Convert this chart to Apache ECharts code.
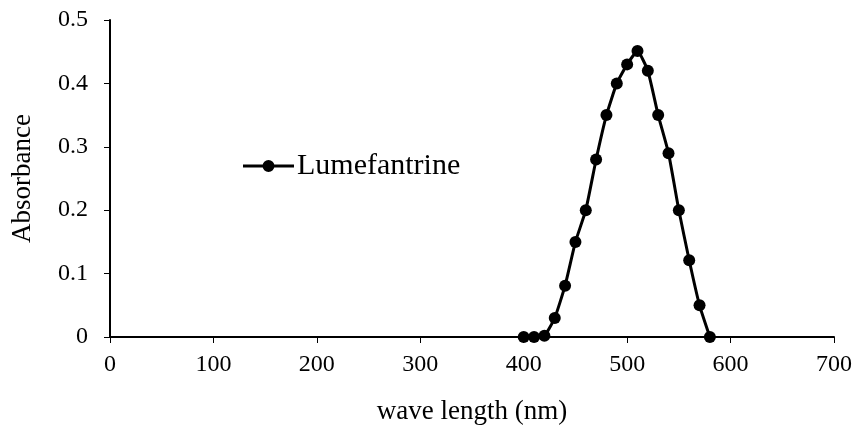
<!DOCTYPE html>
<html>
<head>
<meta charset="utf-8">
<script src="https://cdn.jsdelivr.net/npm/echarts@6/dist/echarts.min.js"></script>
<style>html,body{margin:0;padding:0;background:#fff}#c{width:855px;height:428px}</style>
</head>
<body>
<div id="c"></div>
<script>
const seriesName = 'Lumefantrine';
const wavelengths = [400,410,420,430,440,450,460,470,480,490,500,510,520,530,540,550,560,570,580];
const absorbance = [0,0,0.002,0.03,0.081,0.15,0.2,0.28,0.35,0.4,0.43,0.451,0.42,0.35,0.29,0.2,0.121,0.05,0];
const xTitle = 'wave length (nm)';
const yTitle = 'Absorbance';

const font = '"Liberation Serif","Times New Roman",serif';
const legendIcon = 'path://M0,4.5 L51,4.5 L51,7.5 L0,7.5 Z M19.5,6 A6,6 0 1,1 31.5,6 A6,6 0 1,1 19.5,6 Z';
const chart = echarts.init(document.getElementById('c'));
chart.setOption({
  animation: false,
  backgroundColor: '#fff',
  grid: {left: 110, right: 21, top: 20, bottom: 91, outerBoundsMode: 'none', containLabel: false},
  legend: {
    left: 243, top: 151, padding: 0,
    itemWidth: 51, itemHeight: 12, itemGap: 0,
    data: [{name: seriesName, icon: legendIcon}],
    itemStyle: {color: '#000', borderWidth: 0},
    lineStyle: {width: 0},
    textStyle: {fontFamily: font, fontSize: 30, color: '#000', padding: [0,0,0,-2]}
  },
  xAxis: {
    type: 'value', min: 0, max: 700, interval: 100,
    name: xTitle, nameLocation: 'middle', nameGap: 61,
    nameTextStyle: {fontFamily: font, fontSize: 27, color: '#000'},
    axisLine: {lineStyle: {color: '#000', width: 2}},
    axisTick: {show: true, inside: false, length: 6, lineStyle: {color: '#000', width: 1}},
    axisLabel: {fontFamily: font, fontSize: 24, color: '#000', margin: 16},
    splitLine: {show: false}
  },
  yAxis: {
    type: 'value', min: 0, max: 0.5, interval: 0.1,
    name: yTitle, nameLocation: 'middle', nameGap: 74,
    nameTextStyle: {fontFamily: font, fontSize: 27, color: '#000'},
    axisLine: {show: true, lineStyle: {color: '#000', width: 2}},
    axisTick: {show: true, inside: false, length: 6, lineStyle: {color: '#000', width: 1}},
    axisLabel: {fontFamily: font, fontSize: 24, color: '#000', margin: 22},
    splitLine: {show: false}
  },
  series: [{
    name: seriesName,
    type: 'line',
    data: wavelengths.map((w, i) => [w, absorbance[i]]),
    smooth: 0.15,
    symbol: 'circle',
    symbolSize: 12,
    itemStyle: {color: '#000'},
    lineStyle: {color: '#000', width: 3}
  }]
});
</script>
</body>
</html>
